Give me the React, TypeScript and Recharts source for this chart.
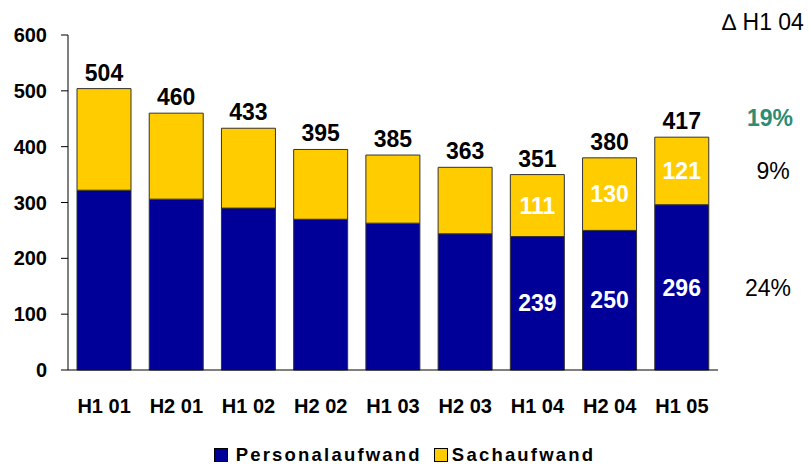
import React from 'react';
import { BarChart, Bar, XAxis, YAxis, Legend, LabelList } from 'recharts';

const periods = ['H1 01', 'H2 01', 'H1 02', 'H2 02', 'H1 03', 'H2 03', 'H1 04', 'H2 04', 'H1 05'];
const personal = [322, 306, 290, 270, 263, 244, 239, 250, 296];
const sach = [182, 154, 143, 125, 122, 119, 111, 130, 121];
const totals = [504, 460, 433, 395, 385, 363, 351, 380, 417];
// nur die letzten drei Balken sind innen beschriftet
const personalLabels = ['', '', '', '', '', '', '239', '250', '296'];
const sachLabels = ['', '', '', '', '', '', '111', '130', '121'];
const yTicks = [0, 100, 200, 300, 400, 500, 600];

const BLUE = '#000099';
const YELLOW = '#FFCC00';
const FONT = 'Arial, "Liberation Sans", sans-serif';

const data = periods.map((p, i) => ({
  period: p,
  personal: personal[i],
  sach: sach[i],
  total: totals[i],
  pLabel: personalLabels[i],
  sLabel: sachLabels[i],
}));

const renderLegend = () => (
  <div style={{ display: 'flex', justifyContent: 'center', alignItems: 'center', fontFamily: FONT, fontWeight: 'bold', fontSize: 18.5, letterSpacing: 2.2, color: '#000', paddingTop: 18, paddingRight: 0 }}>
    <span style={{ width: 12, height: 12, background: BLUE, border: '1px solid #000', marginRight: 8 }} />
    <span style={{ marginRight: 12 }}>Personalaufwand</span>
    <span style={{ width: 12, height: 12, background: YELLOW, border: '1px solid #000', marginRight: 4 }} />
    <span>Sachaufwand</span>
  </div>
);

const note = (text: string, x: number, y: number, extra: React.CSSProperties = {}) => (
  <div style={{ position: 'absolute', left: x, top: y, transform: 'translate(-50%, -50%)', fontFamily: FONT, fontSize: 23, color: '#000', whiteSpace: 'nowrap', ...extra }}>
    {text}
  </div>
);

export default function App() {
  return (
    <div style={{ position: 'absolute', left: 0, top: 0, width: 809, height: 466, background: '#fff' }}>
      <BarChart width={809} height={466} data={data} margin={{ top: 35, right: 91, left: 8, bottom: 0 }} barSize={54}>
        <YAxis
          domain={[0, 600]}
          ticks={yTicks}
          width={60}
          axisLine={{ stroke: '#000' }}
          tickLine={{ stroke: '#000' }}
          tickSize={7}
          tickMargin={14}
          tick={{ fill: '#000', fontSize: 20, fontWeight: 'bold', fontFamily: FONT }}
        />
        <XAxis
          dataKey="period"
          height={56}
          axisLine={{ stroke: '#000' }}
          tickLine={false}
          tickMargin={23}
          tick={{ fill: '#000', fontSize: 20, fontWeight: 'bold', fontFamily: FONT }}
        />
        <Legend verticalAlign="bottom" height={40} content={renderLegend} wrapperStyle={{ left: 0, width: 809 }} />
        <Bar dataKey="personal" stackId="a" fill={BLUE} stroke="#333" strokeWidth={1} isAnimationActive={false}>
          <LabelList dataKey="pLabel" position="center" fill="#fff" fontSize={23} fontWeight="bold" fontFamily={FONT} />
        </Bar>
        <Bar dataKey="sach" stackId="a" fill={YELLOW} stroke="#333" strokeWidth={1} isAnimationActive={false}>
          <LabelList dataKey="sLabel" position="center" fill="#fff" fontSize={23} fontWeight="bold" fontFamily={FONT} />
          <LabelList dataKey="total" position="top" offset={8} fill="#000" fontSize={23} fontWeight="bold" fontFamily={FONT} />
        </Bar>
      </BarChart>
      {note('\u2206 H1 04', 763, 22)}
      {note('19%', 770, 118, { fontWeight: 'bold', color: '#2E8B74' })}
      {note('9%', 773, 171)}
      {note('24%', 768, 288)}
    </div>
  );
}
